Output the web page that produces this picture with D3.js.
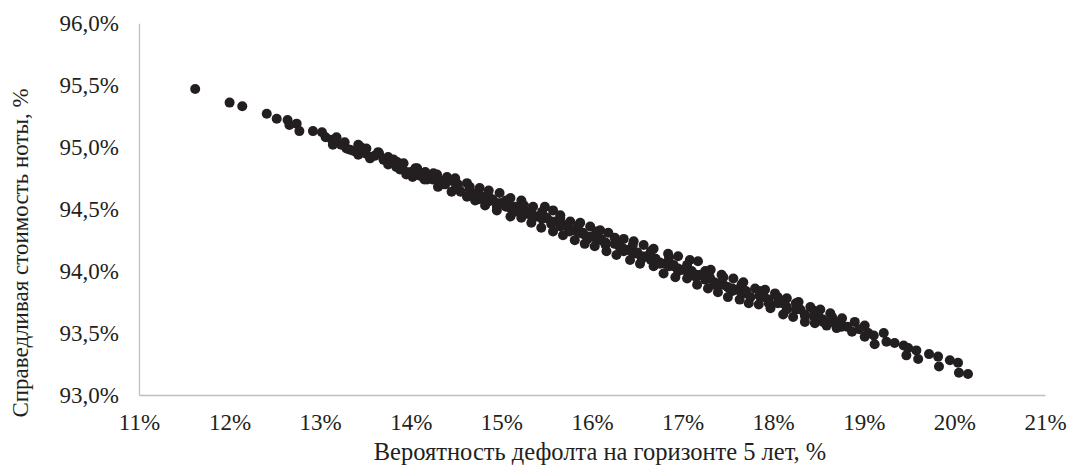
<!DOCTYPE html>
<html>
<head>
<meta charset="utf-8">
<script src="https://cdn.jsdelivr.net/npm/d3@7"></script>
<style>
  html, body { margin: 0; padding: 0; background: #ffffff; }
  svg { display: block; }
  text { font-family: "Liberation Serif", "Times New Roman", serif; fill: #231f20; }
</style>
</head>
<body>
<svg id="chart" width="1068" height="467"></svg>
<script>
// ---- Data ----
// Probability of default over 5-year horizon, %
const pd = [
  11.62, 12.00, 12.14, 12.41, 12.52, 12.64, 12.66, 12.74, 12.77, 12.92,
  13.02, 13.06, 13.13, 13.14, 13.18, 13.27, 13.29, 13.33, 13.42, 13.42,
  13.51, 13.55, 13.64, 13.70, 13.75, 13.81, 13.84, 13.92, 13.95, 14.07,
  14.16, 14.18, 13.47, 13.60, 13.88, 14.00, 14.02, 14.10, 13.23, 13.37,
  14.29, 14.40, 14.49, 14.62, 14.30, 14.45, 14.62, 14.38, 14.54, 14.24,
  14.34, 14.52,
  14.65, 14.76, 14.86, 14.98, 15.10, 15.22, 15.35, 15.48, 15.57, 15.65,
  15.76, 15.87, 15.98, 16.09, 16.18,
  14.71, 14.82, 14.95, 15.10, 15.22, 15.33, 15.44, 15.57, 15.68, 15.81,
  15.92, 16.03, 16.16,
  14.70, 14.80, 14.90, 15.00, 15.10, 15.20, 15.30, 15.40, 15.50, 15.60,
  15.70, 15.80, 15.90, 16.00, 16.10,
  14.75, 14.85, 14.95, 15.05, 15.15, 15.25, 15.35, 15.45, 15.55, 15.65,
  15.75, 15.85, 15.95, 16.05, 16.15,
  16.35, 16.46, 16.57, 16.68, 16.84, 16.95, 17.08, 17.17, 17.31, 17.43,
  17.56, 17.67,
  16.27, 16.42, 16.53, 16.68, 16.79, 16.92, 17.05, 17.16, 17.28, 17.39,
  17.50, 17.63, 17.73,
  16.30, 16.40, 16.50, 16.60, 16.70, 16.80, 16.90, 17.00, 17.10, 17.20,
  17.30, 17.40, 17.50, 17.60, 17.70,
  16.25, 16.35, 16.45, 16.55, 16.65, 16.75, 16.85, 16.95, 17.05, 17.15,
  17.25, 17.35, 17.45, 17.55, 17.65,
  17.80, 17.91, 18.02, 18.15, 18.28, 18.41, 18.52, 18.63, 18.76, 18.90,
  19.01,
  17.84, 17.97, 18.11, 18.22, 18.35, 18.46, 18.59, 18.70, 18.87, 19.01,
  17.85, 17.95, 18.05, 18.15, 18.25, 18.35, 18.45, 18.55, 18.65, 18.75,
  18.82, 18.95, 19.05,
  19.11, 19.22, 19.12, 19.25, 19.34, 19.44, 19.49, 19.47, 19.58, 19.60,
  19.72, 19.82, 19.83, 19.95, 20.04, 20.05, 20.15,
  13.45, 13.65, 13.85, 14.05, 14.25, 14.45, 14.65, 14.85, 15.05, 15.25,
  15.45, 15.65, 15.85, 16.05, 16.25, 16.45, 16.65, 16.85, 17.05, 17.25,
  17.45, 17.65, 17.85, 18.05, 18.25, 18.45, 18.65,
  13.55, 13.75, 13.95, 14.15, 14.35, 14.55, 14.75, 14.95, 15.15, 15.35,
  15.55, 15.75, 15.95, 16.15, 16.35, 16.55, 16.75, 16.95, 17.15, 17.35,
  17.55, 17.75, 17.95, 18.15, 18.35, 18.55, 18.75,
  13.50, 13.70, 13.90, 14.10, 14.30, 14.50, 14.70, 14.90, 15.10, 15.30,
  15.50, 15.70, 15.90, 16.10, 16.30, 16.50, 16.70, 16.90, 17.10, 17.30,
  17.50, 17.70, 17.90, 18.10, 18.30, 18.50, 18.70
];
// Fair value of the note, %
const fairValue = [
  95.47, 95.36, 95.33, 95.27, 95.23, 95.22, 95.18, 95.19, 95.13, 95.13,
  95.12, 95.08, 95.06, 95.02, 95.08, 95.04, 94.99, 94.98, 95.02, 94.94,
  94.99, 94.92, 94.96, 94.90, 94.92, 94.90, 94.84, 94.87, 94.78, 94.83,
  94.80, 94.74, 94.96, 94.93, 94.82, 94.80, 94.76, 94.77, 95.02, 94.97,
  94.78, 94.76, 94.75, 94.71, 94.68, 94.64, 94.60, 94.70, 94.65, 94.74,
  94.73, 94.70,
  94.68, 94.67, 94.65, 94.63, 94.59, 94.57, 94.52, 94.52, 94.49, 94.45,
  94.40, 94.39, 94.36, 94.33, 94.31,
  94.57, 94.53, 94.49, 94.44, 94.43, 94.39, 94.35, 94.32, 94.29, 94.25,
  94.22, 94.20, 94.16,
  94.62, 94.60, 94.58, 94.55, 94.51, 94.50, 94.46, 94.44, 94.43, 94.40,
  94.37, 94.33, 94.30, 94.28, 94.25,
  94.60, 94.56, 94.55, 94.52, 94.52, 94.48, 94.45, 94.42, 94.40, 94.36,
  94.33, 94.31, 94.28, 94.26, 94.23,
  94.26, 94.24, 94.21, 94.18, 94.14, 94.12, 94.09, 94.08, 94.01, 93.97,
  93.94, 93.91,
  94.13, 94.09, 94.06, 94.04, 93.98, 93.95, 93.94, 93.89, 93.86, 93.83,
  93.79, 93.77, 93.74,
  94.20, 94.17, 94.14, 94.12, 94.10, 94.06, 94.04, 94.01, 93.99, 93.97,
  93.94, 93.90, 93.87, 93.85, 93.82,
  94.22, 94.18, 94.15, 94.12, 94.09, 94.07, 94.04, 94.02, 94.00, 93.97,
  93.93, 93.91, 93.89, 93.86, 93.83,
  93.86, 93.85, 93.82, 93.78, 93.75, 93.71, 93.69, 93.66, 93.62, 93.59,
  93.56,
  93.73, 93.70, 93.65, 93.63, 93.59, 93.58, 93.56, 93.54, 93.51, 93.47,
  93.80, 93.77, 93.74, 93.71, 93.69, 93.65, 93.63, 93.61, 93.59, 93.57,
  93.55, 93.53, 93.50,
  93.48, 93.50, 93.41, 93.43, 93.42, 93.40, 93.38, 93.32, 93.36, 93.29,
  93.33, 93.31, 93.23, 93.28, 93.26, 93.18, 93.17,
  95.00, 94.95, 94.88, 94.83, 94.79, 94.73, 94.66, 94.62, 94.57, 94.53,
  94.48, 94.43, 94.37, 94.32, 94.27, 94.21, 94.16, 94.11, 94.05, 94.00,
  93.95, 93.89, 93.84, 93.79, 93.74, 93.68, 93.63,
  94.91, 94.86, 94.80, 94.74, 94.70, 94.64, 94.58, 94.52, 94.48, 94.43,
  94.38, 94.32, 94.26, 94.21, 94.16, 94.10, 94.06, 94.00, 93.95, 93.89,
  93.84, 93.79, 93.74, 93.69, 93.64, 93.59, 93.55,
  94.95, 94.90, 94.84, 94.78, 94.73, 94.68, 94.62, 94.57, 94.52, 94.47,
  94.43, 94.37, 94.31, 94.26, 94.21, 94.15, 94.10, 94.05, 94.00, 93.95,
  93.87, 93.84, 93.79, 93.74, 93.69, 93.64, 93.59
];

const xTicks = [11, 12, 13, 14, 15, 16, 17, 18, 19, 20, 21];
const xTickLabels = ["11%", "12%", "13%", "14%", "15%", "16%", "17%", "18%", "19%", "20%", "21%"];
const yTicks = [93.0, 93.5, 94.0, 94.5, 95.0, 95.5, 96.0];
const yTickLabels = ["93,0%", "93,5%", "94,0%", "94,5%", "95,0%", "95,5%", "96,0%"];

const xTitle = "Вероятность дефолта на горизонте 5 лет, %";
const yTitle = "Справедливая стоимость ноты, %";

// ---- Drawing ----
const svg = d3.select("#chart");
const x = d3.scaleLinear().domain([11, 21]).range([139, 1045]);
const y = d3.scaleLinear().domain([93, 96]).range([395, 23.3]);

const fontSize = 23;
const axisColor = "#bfbfbf";
const inkColor = "#231f20";

const xAxis = d3.axisBottom(x)
  .tickValues(xTicks)
  .tickSize(0)
  .tickSizeOuter(0)
  .tickPadding(19)
  .tickFormat((d, i) => xTickLabels[i]);

const yAxis = d3.axisLeft(y)
  .tickValues(yTicks)
  .tickSize(0)
  .tickSizeOuter(0)
  .tickPadding(20)
  .tickFormat((d, i) => yTickLabels[i]);

const gx = svg.append("g").attr("transform", `translate(0,${y(93)})`).call(xAxis);
const gy = svg.append("g").attr("transform", `translate(${x(11)},0)`).call(yAxis);

[gx, gy].forEach(g => {
  g.select(".domain").attr("stroke", axisColor).attr("stroke-width", 1.3);
  g.selectAll(".tick text")
    .attr("fill", inkColor)
    .style("font-family", '"Liberation Serif", serif')
    .style("font-size", fontSize + "px");
});

// Points
const points = pd.map((v, i) => ({ pd: v, fv: fairValue[i] }));
svg.append("g")
  .selectAll("circle")
  .data(points)
  .join("circle")
  .attr("cx", d => x(d.pd))
  .attr("cy", d => y(d.fv))
  .attr("r", 5)
  .attr("fill", inkColor);

// Axis titles
svg.append("text")
  .attr("x", 600)
  .attr("y", 460)
  .attr("text-anchor", "middle")
  .style("font-size", "24.5px")
  .text(xTitle);

svg.append("text")
  .attr("transform", "translate(28,253) rotate(-90)")
  .attr("text-anchor", "middle")
  .style("font-size", fontSize + "px")
  .text(yTitle);
</script>
</body>
</html>
